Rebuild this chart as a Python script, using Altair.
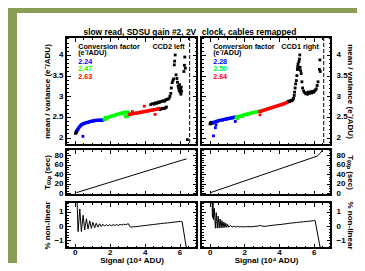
import altair as alt
import pandas as pd

FONT = "Liberation Sans"
GREEN = "#8b9c55"

# chart title, split over the two upper panels (left part / right part)
TITLE_PARTS = ["slow read, SDSU gain #2, 2V", "clock, cables remapped"]
X_TITLE = "Signal (10⁴ ADU)"
Y_TITLE_TOP = "mean / variance (e⁻/ADU)"
Y_TITLE_MID = "Tₑₓₚ (sec)"
Y_TITLE_BOT = "% non-linear"

X_DOMAIN = [-0.5, 7.0]
TOP_DOMAIN = [1.82, 4.435]
MID_DOMAIN = [-4, 93]
BOT_DOMAIN = [-1.55, 1.7]

X_MAJOR = [0, 2, 4, 6]
X_MINOR = [-0.5, 0.5, 1, 1.5, 2.5, 3, 3.5, 4.5, 5, 5.5, 6.5, 7]
TOP_MAJOR = [2, 2.5, 3, 3.5, 4]
TOP_MINOR = [1.9, 2.1, 2.2, 2.3, 2.4, 2.6, 2.7, 2.8, 2.9, 3.1, 3.2, 3.3, 3.4, 3.6, 3.7, 3.8, 3.9, 4.1, 4.2, 4.3, 4.4]
MID_MAJOR = [0, 20, 40, 60, 80]
MID_MINOR = [5, 10, 15, 25, 30, 35, 45, 50, 55, 65, 70, 75, 85, 90]
BOT_MAJOR = [-1, 0, 1]
BOT_MINOR = [-1.4, -1.2, -0.8, -0.6, -0.4, -0.2, 0.2, 0.4, 0.6, 0.8, 1.2, 1.4, 1.6]

# ---------------- CCD2 left : mean/variance ----------------
L_BLACK_X = [0.04, 0.07, 0.09, 0.11, 0.13, 0.15,
             4.35, 4.45, 4.55, 4.62, 4.7, 4.78, 4.85, 4.92, 5.0, 5.07, 5.14, 5.2, 5.27, 5.33, 5.4,
             4.9, 4.98, 5.05, 5.12, 5.2, 5.25,
             5.45, 5.5, 5.53, 5.58, 5.62, 5.66, 5.7, 5.72, 5.75, 5.8, 5.85, 5.88, 5.92, 5.95, 5.98,
             6.0, 6.03, 6.06, 6.08, 6.1, 6.12, 6.25, 6.28, 6.3, 6.33, 6.45]
L_BLACK_Y = [2.10, 2.12, 2.15, 2.13, 2.17, 2.19,
             2.80, 2.82, 2.81, 2.84, 2.83, 2.86, 2.85, 2.87, 2.88, 2.89, 2.88, 2.91, 2.92, 2.93, 2.95,
             2.68, 2.70, 2.71, 2.70, 2.72, 2.74,
             3.0, 3.07, 3.2, 3.33, 3.38, 3.42, 3.76, 3.85, 4.0, 3.52, 3.43, 3.34, 3.25, 3.2, 3.14,
             3.28, 3.1, 3.18, 3.05, 3.22, 3.12, 3.6, 3.75, 3.95, 3.68, 1.95]
L_BLUE_X = [0.17, 0.2, 0.22, 0.25, 0.28, 0.31, 0.34, 0.37, 0.4, 0.44, 0.48, 0.52, 0.56, 0.6, 0.65,
            0.7, 0.75, 0.8, 0.85, 0.9, 0.95, 1.0, 1.05, 1.1, 1.15, 1.2, 1.25, 1.3, 1.35, 1.4, 1.45,
            1.5, 1.55, 1.6, 1.65, 0.47]
L_BLUE_Y = [2.18, 2.21, 2.23, 2.25, 2.26, 2.28, 2.29, 2.31, 2.31, 2.32, 2.34, 2.33, 2.35, 2.35, 2.36,
            2.37, 2.36, 2.38, 2.38, 2.39, 2.40, 2.39, 2.41, 2.40, 2.42, 2.41, 2.42, 2.42, 2.41, 2.43, 2.42,
            2.41, 2.43, 2.42, 2.43, 2.03]
L_GREEN_X = [1.68, 1.72, 1.76, 1.8, 1.84, 1.88, 1.92, 1.96, 2.0, 2.05, 2.1, 2.15, 2.2, 2.25, 2.3, 2.35,
             2.4, 2.45, 2.5, 2.55, 2.6, 2.65, 2.7, 2.75, 2.8, 2.85, 2.9, 2.95, 3.0, 3.05, 3.1,
             2.88, 2.93, 2.98, 3.03, 1.75, 1.82]
L_GREEN_Y = [2.44, 2.46, 2.45, 2.48, 2.47, 2.49, 2.48, 2.50, 2.51, 2.50, 2.52, 2.53, 2.52, 2.54, 2.55, 2.54,
             2.56, 2.57, 2.56, 2.58, 2.57, 2.59, 2.60, 2.58, 2.61, 2.60, 2.62, 2.61, 2.62, 2.60, 2.61,
             2.52, 2.50, 2.53, 2.51, 2.49, 2.44]
L_RED_X = [3.12, 3.17, 3.22, 3.27, 3.32, 3.37, 3.42, 3.47, 3.52, 3.57, 3.62, 3.67, 3.72, 3.77, 3.82,
           3.87, 3.92, 3.97, 4.02, 4.07, 4.12, 4.17, 4.22, 4.27, 4.32, 4.37, 4.42, 4.47, 4.52, 4.57,
           4.62, 4.67, 4.72, 4.77, 4.82, 3.98, 4.6, 3.3]
L_RED_Y = [2.56, 2.57, 2.56, 2.58, 2.57, 2.58, 2.59, 2.58, 2.60, 2.59, 2.60, 2.61, 2.60, 2.62, 2.61,
           2.62, 2.63, 2.62, 2.64, 2.63, 2.64, 2.65, 2.64, 2.66, 2.65, 2.66, 2.67, 2.66, 2.68, 2.67,
           2.68, 2.69, 2.68, 2.70, 2.71, 2.76, 2.56, 2.63]

# ---------------- CCD1 right : mean/variance ----------------
R_BLACK_X = [0.02, 0.05, 0.08, 0.11, 0.14,
             4.5, 4.55, 4.6, 4.65, 4.7, 4.75, 4.8, 4.84,
             4.88, 4.9, 4.93, 4.96, 5.0, 5.03, 5.06, 5.08, 5.1, 5.12, 5.15, 5.18, 5.2, 5.22, 5.25,
             5.28, 5.32, 5.36, 5.42, 5.48,
             5.55, 5.6, 5.65, 5.7, 5.75, 5.8, 5.85, 5.9, 5.95, 6.0, 6.05, 6.1, 6.15, 6.2, 6.25,
             6.33, 6.36, 6.38]
R_BLACK_Y = [2.33, 2.36, 2.35, 2.37, 2.34,
             2.86, 2.88, 2.87, 2.89, 2.90, 2.89, 2.92, 2.95,
             3.02, 3.1, 3.2, 3.3, 3.38, 3.5, 3.65, 3.72, 3.78, 3.66, 3.84, 3.9, 4.0, 3.7, 3.62,
             3.55, 3.35, 3.2, 3.13, 3.09,
             3.06, 3.08, 3.05, 3.1, 3.07, 3.09, 3.11, 3.08, 3.12, 3.1, 3.13, 3.15, 3.18, 3.26, 3.35,
             3.65, 3.88, 3.6]
R_BLUE_X = [0.18, 0.22, 0.26, 0.3, 0.34, 0.38, 0.42, 0.46, 0.5, 0.55, 0.6, 0.65, 0.7, 0.75, 0.8,
            0.85, 0.9, 0.95, 1.0, 1.05, 1.1, 1.15, 1.2, 1.25, 1.3, 1.35, 1.4, 1.45, 1.5,
            0.22, 0.33, 0.37, 1.48]
R_BLUE_Y = [2.36, 2.37, 2.36, 2.38, 2.38, 2.39, 2.40, 2.39, 2.41, 2.41, 2.42, 2.42, 2.43, 2.42, 2.44,
            2.44, 2.45, 2.44, 2.46, 2.45, 2.47, 2.46, 2.47, 2.48, 2.47, 2.49, 2.48, 2.50, 2.49,
            2.04, 2.24, 2.31, 2.39]
R_GREEN_X = [1.52, 1.56, 1.6, 1.65, 1.7, 1.75, 1.8, 1.85, 1.9, 1.95, 2.0, 2.05, 2.1, 2.15, 2.2,
             2.25, 2.3, 2.35, 2.4, 2.45, 2.5, 2.55, 2.6, 2.65, 2.7, 2.75, 2.8, 2.85, 1.6, 1.9, 2.2]
R_GREEN_Y = [2.48, 2.50, 2.49, 2.51, 2.52, 2.51, 2.53, 2.54, 2.53, 2.55, 2.55, 2.56, 2.57, 2.56, 2.58,
             2.57, 2.59, 2.58, 2.60, 2.59, 2.61, 2.60, 2.62, 2.61, 2.63, 2.62, 2.64, 2.63, 2.46, 2.51, 2.55]
R_RED_X = [2.88, 2.92, 2.96, 3.0, 3.05, 3.1, 3.15, 3.2, 3.25, 3.3, 3.35, 3.4, 3.45, 3.5, 3.55, 3.6,
           3.65, 3.7, 3.75, 3.8, 3.85, 3.9, 3.95, 4.0, 4.05, 4.1, 4.15, 4.2, 4.25, 4.3, 4.35, 4.4,
           4.45, 2.9]
R_RED_Y = [2.63, 2.64, 2.63, 2.65, 2.66, 2.65, 2.67, 2.68, 2.67, 2.69, 2.70, 2.69, 2.71, 2.72, 2.71, 2.73,
           2.74, 2.73, 2.75, 2.76, 2.75, 2.77, 2.78, 2.77, 2.79, 2.80, 2.79, 2.81, 2.82, 2.81, 2.83, 2.84,
           2.85, 2.55]

# ---------------- exposure time ----------------
L_TEXP_X = [0.1, 3.0, 6.1, 6.4]
L_TEXP_Y = [1, 34, 69, 72]
R_TEXP_X = [0.05, 3.0, 6.2, 6.35, 6.55]
R_TEXP_Y = [1, 38, 78, 83, 93]

# ---------------- % non-linear (curves leave the frame at its edges) ----------------
L_NL_X = [0.14, 0.15, 0.19, 0.29, 0.38, 0.48, 0.57, 0.67, 0.76, 0.86, 0.95, 1.04, 1.14, 1.23, 1.33,
          1.42, 1.52, 1.61, 1.71, 1.8, 1.9, 2.0, 2.1, 2.2, 2.3, 2.4, 2.5, 2.6, 2.7, 2.8, 2.9, 3.0,
          3.08, 3.14, 3.22, 3.35, 3.5, 3.7, 3.9, 4.1, 4.3, 4.5, 4.7, 4.9, 5.1, 5.3, 5.5, 5.7, 5.9,
          6.05, 6.15, 6.39]
L_NL_Y = [1.7, 1.2, -0.39, 1.21, -0.39, 0.76, -0.28, 0.52, -0.21, 0.37, -0.16, 0.27, -0.12, 0.2, -0.08,
          0.16, -0.04, 0.13, -0.01, 0.11, 0.01, 0.1, 0.02, 0.1, 0.04, 0.1, 0.05, 0.12, 0.07, 0.13, 0.1, 0.14,
          0.16, -0.02, -0.08, -0.05, -0.04, -0.01, 0.02, 0.05, 0.08, 0.11, 0.14, 0.17, 0.2, 0.22, 0.25, 0.28,
          0.31, 0.33, 0.3, -1.55]
R_NL_X = [0.14, 0.16, 0.19, 0.22, 0.27, 0.33, 0.38, 0.44, 0.49, 0.55, 0.6, 0.66, 0.71, 0.77, 0.82,
          0.88, 0.93, 0.99, 1.04, 1.1, 1.2, 1.3, 1.4, 1.5, 1.6, 1.7, 1.8, 1.9, 2.0, 2.2, 2.4, 2.6,
          2.8, 2.9, 3.0, 3.2, 3.4, 3.6, 3.8, 4.0, 4.2, 4.4, 4.6, 4.8, 5.0, 5.2, 5.4, 5.6, 5.8, 6.0,
          6.08, 6.38]
R_NL_Y = [1.7, 0.6, 1.7, 0.45, 1.25, -0.15, 0.95, -0.15, 0.7, -0.14, 0.5, -0.13, 0.38, -0.12, 0.28,
          -0.1, 0.2, -0.09, 0.12, -0.08, 0.05, -0.08, 0.0, -0.07, -0.02, -0.06, -0.04, -0.06, -0.05, -0.04,
          -0.05, -0.02, 0.0, 0.05, 0.0, -0.02, 0.02, 0.05, 0.08, 0.1, 0.13, 0.16, 0.2, 0.22, 0.25, 0.28,
          0.3, 0.33, 0.35, 0.38, 0.4, -1.55]

# ---------------- annotations ----------------
L_FACTORS = ["2.24", "2.47", "2.63"]
R_FACTORS = ["2.28", "2.50", "2.64"]
FACTOR_COLORS = ["#0000ff", "#00ff00", "#ff0000"]
LABEL_LINES = ["Conversion factor", "(e⁻/ADU)"]
LINE_Y = [4.2, 4.04, 3.84, 3.66, 3.475]
L_NAME = "CCD2 left"
R_NAME = "CCD1 right"
TEXT_X = 0.2
NAME_X = 6.3
CUT_X = 6.58
TITLE_Y = 4.556
TITLE_X = [6.95, -0.45]

COLOR_DOMAIN = ["black", "blue", "green", "red"]
COLOR_RANGE = ["#000000", "#0000ff", "#00ff00", "#ff0000"]

W_L, W_R = 131, 130
H_T, H_M, H_B = 108, 46, 46
ANN_SIZE = 7.2
TITLE_SIZE = 8.4


def xscale():
    return alt.Scale(domain=X_DOMAIN, nice=False, zero=False)


def yscale(dom):
    return alt.Scale(domain=dom, nice=False, zero=False)


def frame_layers(ydom, ymaj, ymin, left, bottom, ytitle):
    d = pd.DataFrame({"x": [X_DOMAIN[0]], "y": [ydom[0]]})
    layers = []
    for xo, yo, xv, yv, L in [("bottom", "left", X_MAJOR, ymaj, 4.5),
                              ("bottom", "left", X_MINOR, ymin, 2.5),
                              ("top", "right", X_MAJOR, ymaj, 4.5),
                              ("top", "right", X_MINOR, ymin, 2.5)]:
        layers.append(alt.Chart(d).mark_point(opacity=0, size=0, clip=True).encode(
            x=alt.X("x:Q", scale=xscale(), axis=alt.Axis(
                orient=xo, values=xv, tickSize=L, offset=-L, labels=False,
                domain=False, grid=False, title=None, minExtent=0, maxExtent=L)),
            y=alt.Y("y:Q", scale=yscale(ydom), axis=alt.Axis(
                orient=yo, values=yv, tickSize=L, offset=-L, labels=False,
                domain=False, grid=False, title=None, minExtent=0, maxExtent=L)),
        ))
    if bottom:
        xax = alt.Axis(orient="bottom", values=X_MAJOR, ticks=False, domain=False, grid=False,
                       labelPadding=0, title=X_TITLE, titlePadding=0, format="~r",
                       minExtent=8, maxExtent=8)
    else:
        xax = None
    if left:
        yax = alt.Axis(orient="left", values=ymaj, ticks=False, domain=False, grid=False,
                       labelPadding=3, title=ytitle, titlePadding=2, format="~r",
                       minExtent=13, maxExtent=13)
    else:
        yax = alt.Axis(orient="right", values=ymaj, ticks=False, domain=False, grid=False,
                       labelPadding=5, title=ytitle, titlePadding=0, format="~r",
                       minExtent=14, maxExtent=14)
    layers.append(alt.Chart(d).mark_point(opacity=0, size=0, clip=True).encode(
        x=alt.X("x:Q", scale=xscale(), axis=xax),
        y=alt.Y("y:Q", scale=yscale(ydom), axis=yax),
    ))
    return layers


def top_panel(groups, factors, name, left, width, title_part, title_x):
    rows = []
    for g, xs, ys in groups:
        for a, b in zip(xs, ys):
            rows.append({"x": a, "y": b, "g": g})
    df = pd.DataFrame(rows)
    pts = alt.Chart(df).mark_square(size=8, opacity=1, clip=True).encode(
        x=alt.X("x:Q", scale=xscale(), axis=None),
        y=alt.Y("y:Q", scale=yscale(TOP_DOMAIN), axis=None),
        color=alt.Color("g:N", scale=alt.Scale(domain=COLOR_DOMAIN, range=COLOR_RANGE), legend=None),
    )
    cut = alt.Chart(pd.DataFrame({"x": [CUT_X]})).mark_rule(
        color="black", strokeWidth=1, strokeDash=[4, 2]).encode(
        x=alt.X("x:Q", scale=xscale(), axis=None))
    ann = pd.DataFrame({
        "t": LABEL_LINES + factors,
        "x": [TEXT_X] * 5,
        "y": LINE_Y,
        "c": ["#000000", "#000000"] + FACTOR_COLORS,
    })
    txt = alt.Chart(ann).mark_text(align="left", baseline="middle", font=FONT, fontSize=ANN_SIZE,
                                   fontWeight="bold", clip=True).encode(
        x=alt.X("x:Q", scale=xscale(), axis=None),
        y=alt.Y("y:Q", scale=yscale(TOP_DOMAIN), axis=None),
        text="t:N",
        color=alt.Color("c:N", scale=None),
    )
    nm = alt.Chart(pd.DataFrame({"t": [name], "x": [NAME_X], "y": [LINE_Y[0]]})).mark_text(
        align="right", baseline="middle", font=FONT, fontSize=ANN_SIZE, fontWeight="bold",
        color="black", clip=True).encode(
        x=alt.X("x:Q", scale=xscale(), axis=None),
        y=alt.Y("y:Q", scale=yscale(TOP_DOMAIN), axis=None),
        text="t:N",
    )
    ttl = alt.Chart(pd.DataFrame({"t": [title_part], "x": [title_x], "y": [TITLE_Y]})).mark_text(
        align="right" if left else "left", baseline="middle", font=FONT, fontSize=TITLE_SIZE,
        fontWeight="bold", color="black").encode(
        x=alt.X("x:Q", scale=xscale(), axis=None),
        y=alt.Y("y:Q", scale=yscale(TOP_DOMAIN), axis=None),
        text="t:N",
    )
    layers = frame_layers(TOP_DOMAIN, TOP_MAJOR, TOP_MINOR, left, False, Y_TITLE_TOP)
    return alt.layer(*layers, cut, pts, txt, nm, ttl).resolve_axis(
        x="independent", y="independent").properties(width=width, height=H_T)


def line_panel(xs, ys, ydom, ymaj, ymin, left, bottom, ytitle, width, height):
    df = pd.DataFrame({"x": xs, "y": ys, "i": list(range(len(xs)))})
    ln = alt.Chart(df).mark_line(color="black", strokeWidth=1, clip=True).encode(
        x=alt.X("x:Q", scale=xscale(), axis=None),
        y=alt.Y("y:Q", scale=yscale(ydom), axis=None),
        order="i:Q",
    )
    layers = frame_layers(ydom, ymaj, ymin, left, bottom, ytitle)
    return alt.layer(*layers, ln).resolve_axis(
        x="independent", y="independent").properties(width=width, height=height)


tl = top_panel([("black", L_BLACK_X, L_BLACK_Y), ("blue", L_BLUE_X, L_BLUE_Y),
                ("green", L_GREEN_X, L_GREEN_Y), ("red", L_RED_X, L_RED_Y)],
               L_FACTORS, L_NAME, True, W_L, TITLE_PARTS[0], TITLE_X[0])
tr = top_panel([("black", R_BLACK_X, R_BLACK_Y), ("blue", R_BLUE_X, R_BLUE_Y),
                ("green", R_GREEN_X, R_GREEN_Y), ("red", R_RED_X, R_RED_Y)],
               R_FACTORS, R_NAME, False, W_R, TITLE_PARTS[1], TITLE_X[1])
ml = line_panel(L_TEXP_X, L_TEXP_Y, MID_DOMAIN, MID_MAJOR, MID_MINOR, True, False, Y_TITLE_MID, W_L, H_M)
mr = line_panel(R_TEXP_X, R_TEXP_Y, MID_DOMAIN, MID_MAJOR, MID_MINOR, False, False, Y_TITLE_MID, W_R, H_M)
bl = line_panel(L_NL_X, L_NL_Y, BOT_DOMAIN, BOT_MAJOR, BOT_MINOR, True, True, Y_TITLE_BOT, W_L, H_B)
br = line_panel(R_NL_X, R_NL_Y, BOT_DOMAIN, BOT_MAJOR, BOT_MINOR, False, True, Y_TITLE_BOT, W_R, H_B)

grid = alt.concat(tl, tr, ml, mr, bl, br, columns=2, spacing=0, align="each", bounds="full")


def spacer(w, h, fill=None):
    if fill:
        vb = alt.ViewBackground(fill=fill, strokeWidth=0, strokeOpacity=0)
    else:
        vb = alt.ViewBackground(strokeWidth=0, strokeOpacity=0, fillOpacity=0)
    return alt.Chart(pd.DataFrame({"a": [0]})).mark_point(opacity=0, size=0).encode(
        x=alt.value(0), y=alt.value(0)).properties(width=w, height=h, view=vb)


chart = alt.vconcat(
    spacer(349, 5, GREEN),
    alt.hconcat(
        spacer(9, 250, GREEN),
        spacer(25, 1),
        alt.vconcat(spacer(1, 14), grid, spacing=0),
        spacing=0,
    ),
    spacing=0,
).properties(padding=0, background="white").configure_view(
    stroke="black", strokeWidth=2
).configure_axis(
    labelFont=FONT, labelFontSize=8, labelFontWeight="bold", labelColor="black",
    titleFont=FONT, titleFontSize=8, titleFontWeight="bold", titleColor="black",
    tickColor="black", tickWidth=1,
)

chart.save("out.html", embed_options={"renderer": "svg", "actions": False})
